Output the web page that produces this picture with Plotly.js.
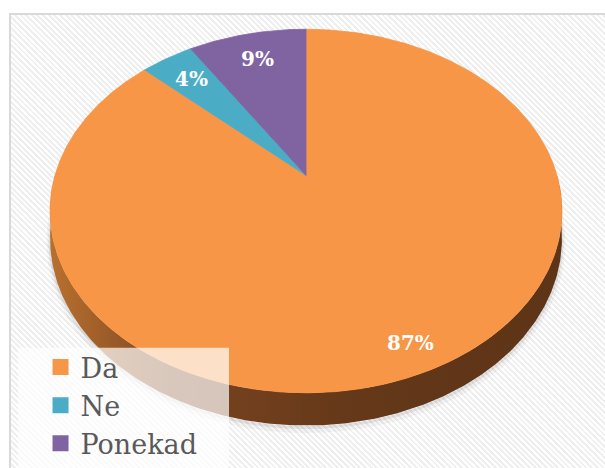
<!DOCTYPE html>
<html><head><meta charset="utf-8">
<script src="https://cdn.plot.ly/plotly-3.0.1.min.js"></script>
<style>
html,body{margin:0;padding:0;background:#fff;}
#wrap{position:relative;width:605px;height:468px;overflow:hidden;background:#fff;}
#bg{position:absolute;left:9px;top:13px;width:594px;height:470px;border-left:2px solid #d9d9d9;border-top:2px solid #d9d9d9;background:repeating-linear-gradient(45deg,#ffffff 0px,#ffffff 2px,#efefef 2px,#efefef 4px);}
#chart{position:absolute;left:0;top:0;width:605px;height:468px;}
</style></head>
<body><div id="wrap"><div id="bg"></div><div id="chart"></div></div>
<script>
const categories = ['Da', 'Ne', 'Ponekad'];
const values = [87, 4, 9];
const colors = ['#F79646', '#4BACC6', '#8064A2'];
const sideColors = ['#6a3c1c', '#2a6a7c', '#4d3a63'];

// perspective geometry of the tilted pie (pixel axes)
const G = {cx: 306, cy: 180, a: 251, b: 179.4, k: 0.196, t: 27};
function proj(theta, f, drop) {
  const r = theta * Math.PI / 180;
  const X = f * Math.sin(r), Z = -f * Math.cos(r);
  const d = 1 - G.k * Z;
  return [G.cx + G.a * X / d, G.cy + (G.b * Z + G.t * drop) / d];
}
function arc(s, e, f, drop) {
  const xs = [], ys = [];
  const n = Math.max(2, Math.ceil(Math.abs(e - s) / 0.5));
  for (let i = 0; i <= n; i++) {
    const p = proj(s + (e - s) * i / n, f, drop);
    xs.push(p[0]); ys.push(p[1]);
  }
  return [xs, ys];
}

const total = values.reduce((a, b) => a + b, 0);
const traces = [];
const annotations = [];
let cum = 0;
const slices = values.map(v => { const s = cum / total * 360; cum += v; return [s, cum / total * 360]; });

// drop shadow under the front rim
[[7, 0.04, 4], [3, 0.07, 2]].forEach(([w, op, off]) => {
  const sh = arc(92, 268, 1, 1);
  traces.push({type: 'scatter', mode: 'lines', x: sh[0], y: sh[1].map(y => y + off),
    line: {color: 'rgba(0,0,0,' + op + ')', width: w, shape: 'spline'}, hoverinfo: 'skip', showlegend: false});
});

// side walls (front half only)
slices.forEach(([s, e], i) => {
  const a0 = Math.max(s, 90), a1 = Math.min(e, 270);
  if (a1 <= a0) return;
  const rimTop = arc(a0, a1, 1, 0), rimBot = arc(a1, a0, 1, 1);
  traces.push({type: 'scatter', mode: 'lines', x: rimTop[0].concat(rimBot[0]), y: rimTop[1].concat(rimBot[1]),
    fill: 'toself', fillcolor: sideColors[i],
    fillgradient: {type: 'horizontal', colorscale: [[0, '#b8702f'], [0.25, '#7a4420'], [0.6, '#643819'], [1, '#5e3417']]},
    line: {width: 0}, hoverinfo: 'skip', showlegend: false});
});

// top face
slices.forEach(([s, e], i) => {
  const face = arc(s, e, 1, 0);
  traces.push({type: 'scatter', mode: 'lines', x: [G.cx].concat(face[0], [G.cx]), y: [G.cy].concat(face[1], [G.cy]),
    fill: 'toself', fillcolor: colors[i], line: {color: colors[i], width: 0.8},
    legendgroup: categories[i], name: categories[i], hoverinfo: 'skip', showlegend: false});
  const mid = (s + e) / 2;
  const f = values[i] / total > 0.5 ? 0.88 : 0.8;
  const p = proj(mid, f, 0);
  annotations.push({x: p[0], y: p[1], xref: 'x', yref: 'y', text: values[i] + '%', showarrow: false,
    font: {family: 'DejaVu Serif, Liberation Serif, serif', size: 20, color: '#ffffff', weight: 'bold'}});
});

// legend entries
categories.forEach((c, i) => {
  traces.push({type: 'scatter', mode: 'markers', x: [null], y: [null], name: c, legendgroup: c,
    marker: {symbol: 'square', size: 18, color: colors[i]}, showlegend: true, hoverinfo: 'skip'});
});

const layout = {
  width: 605, height: 468,
  margin: {l: 0, r: 0, t: 0, b: 0, pad: 0},
  paper_bgcolor: 'rgba(0,0,0,0)', plot_bgcolor: 'rgba(0,0,0,0)',
  xaxis: {range: [0, 605], visible: false, fixedrange: true},
  yaxis: {range: [468, 0], visible: false, fixedrange: true},
  showlegend: true,
  legend: {x: 0.067, y: 0.247, xanchor: 'left', yanchor: 'top', bgcolor: 'rgba(0,0,0,0)',
    font: {family: 'DejaVu Serif, Liberation Serif, serif', size: 27, color: '#595959'}, tracegroupgap: 0, itemclick: false, itemdoubleclick: false},
  shapes: [{type: 'rect', xref: 'paper', yref: 'paper', x0: 18 / 605, x1: 229 / 605, y0: -0.05, y1: 1 - 357 / 468,
    fillcolor: 'rgba(255,255,255,0.7)', line: {width: 0}, layer: 'above'}],
  annotations: annotations,
  hovermode: false
};
Plotly.newPlot('chart', traces, layout, {displayModeBar: false, staticPlot: true});
</script>
</body></html>
